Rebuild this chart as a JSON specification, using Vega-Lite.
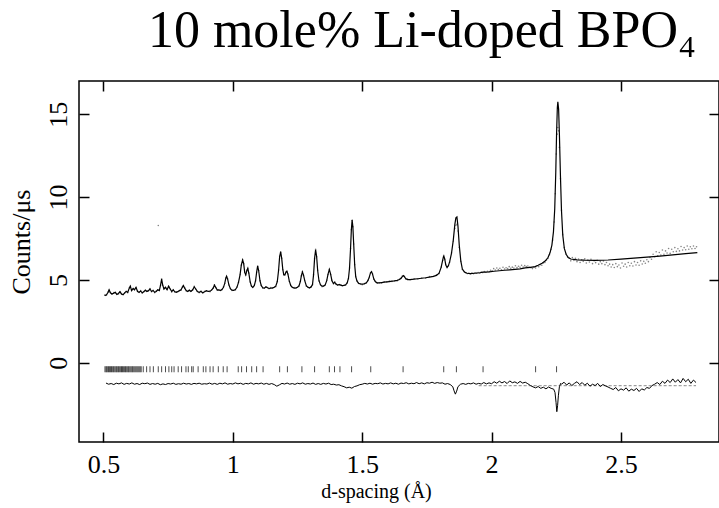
{
"$schema":"https://vega.github.io/schema/vega-lite/v6.json",
"width":640,"height":361,
"autosize":{"type":"none"},
"padding":{"left":79,"top":81,"right":0,"bottom":66},
"background":"white",
"config":{"view":{"stroke":"black","strokeWidth":1.5},"font":"Liberation Serif"},
"title":{"text":"10 mole% Li-doped BPO₄","font":"Liberation Serif","fontSize":52,"fontWeight":"normal","color":"black","anchor":"middle","dx":23,"offset":-19,"baseline":"alphabetic"},
"datasets":{
"calc":[
{"d":0.505,"y":4.05},{"d":0.512,"y":4.10},{"d":0.518,"y":4.25},{"d":0.522,"y":4.40},{"d":0.527,"y":4.22},{"d":0.533,"y":4.15},{"d":0.540,"y":4.20},{"d":0.546,"y":4.25},{"d":0.552,"y":4.12},{"d":0.558,"y":4.18},{"d":0.564,"y":4.28},{"d":0.570,"y":4.15},{"d":0.576,"y":4.10},{"d":0.582,"y":4.22},{"d":0.588,"y":4.30},{"d":0.594,"y":4.25},{"d":0.600,"y":4.50},{"d":0.604,"y":4.62},{"d":0.609,"y":4.35},{"d":0.615,"y":4.48},{"d":0.620,"y":4.40},{"d":0.626,"y":4.55},{"d":0.632,"y":4.30},{"d":0.638,"y":4.25},{"d":0.644,"y":4.32},{"d":0.650,"y":4.22},{"d":0.656,"y":4.28},{"d":0.662,"y":4.38},{"d":0.668,"y":4.30},{"d":0.674,"y":4.35},{"d":0.680,"y":4.45},{"d":0.686,"y":4.30},{"d":0.692,"y":4.36},{"d":0.698,"y":4.25},{"d":0.704,"y":4.30},{"d":0.710,"y":4.40},{"d":0.716,"y":4.35},{"d":0.721,"y":4.70},{"d":0.725,"y":5.05},{"d":0.729,"y":4.70},{"d":0.734,"y":4.45},{"d":0.740,"y":4.55},{"d":0.746,"y":4.40},{"d":0.752,"y":4.62},{"d":0.758,"y":4.45},{"d":0.764,"y":4.30},{"d":0.770,"y":4.40},{"d":0.776,"y":4.28},{"d":0.782,"y":4.25},{"d":0.788,"y":4.30},{"d":0.794,"y":4.35},{"d":0.800,"y":4.40},{"d":0.805,"y":4.55},{"d":0.809,"y":4.66},{"d":0.814,"y":4.50},{"d":0.820,"y":4.35},{"d":0.826,"y":4.30},{"d":0.832,"y":4.38},{"d":0.838,"y":4.30},{"d":0.845,"y":4.40},{"d":0.851,"y":4.58},{"d":0.857,"y":4.45},{"d":0.863,"y":4.30},{"d":0.870,"y":4.25},{"d":0.877,"y":4.30},{"d":0.884,"y":4.22},{"d":0.891,"y":4.28},{"d":0.898,"y":4.35},{"d":0.905,"y":4.30},{"d":0.912,"y":4.32},{"d":0.918,"y":4.38},{"d":0.924,"y":4.50},{"d":0.929,"y":4.68},{"d":0.934,"y":4.55},{"d":0.940,"y":4.38},{"d":0.946,"y":4.40},{"d":0.952,"y":4.35},{"d":0.958,"y":4.42},{"d":0.964,"y":4.55},{"d":0.969,"y":4.80},{"d":0.973,"y":5.10},{"d":0.976,"y":5.22},{"d":0.980,"y":5.05},{"d":0.985,"y":4.70},{"d":0.991,"y":4.45},{"d":0.997,"y":4.38},{"d":1.003,"y":4.36},{"d":1.010,"y":4.42},{"d":1.016,"y":4.55},{"d":1.022,"y":4.85},{"d":1.028,"y":5.30},{"d":1.033,"y":5.90},{"d":1.038,"y":6.20},{"d":1.042,"y":6.00},{"d":1.046,"y":5.45},{"d":1.050,"y":5.30},{"d":1.054,"y":5.55},{"d":1.058,"y":5.70},{"d":1.062,"y":5.40},{"d":1.067,"y":4.90},{"d":1.072,"y":4.62},{"d":1.077,"y":4.55},{"d":1.083,"y":4.65},{"d":1.088,"y":4.95},{"d":1.092,"y":5.45},{"d":1.096,"y":5.85},{"d":1.100,"y":5.55},{"d":1.105,"y":4.95},{"d":1.110,"y":4.65},{"d":1.116,"y":4.52},{"d":1.122,"y":4.50},{"d":1.128,"y":4.58},{"d":1.134,"y":4.52},{"d":1.140,"y":4.48},{"d":1.147,"y":4.50},{"d":1.154,"y":4.52},{"d":1.160,"y":4.55},{"d":1.166,"y":4.62},{"d":1.172,"y":4.90},{"d":1.177,"y":5.60},{"d":1.181,"y":6.40},{"d":1.185,"y":6.70},{"d":1.189,"y":6.30},{"d":1.193,"y":5.65},{"d":1.197,"y":5.30},{"d":1.201,"y":5.30},{"d":1.205,"y":5.45},{"d":1.209,"y":5.52},{"d":1.213,"y":5.35},{"d":1.218,"y":4.95},{"d":1.224,"y":4.65},{"d":1.230,"y":4.55},{"d":1.237,"y":4.50},{"d":1.244,"y":4.52},{"d":1.250,"y":4.55},{"d":1.256,"y":4.65},{"d":1.261,"y":4.90},{"d":1.265,"y":5.25},{"d":1.269,"y":5.48},{"d":1.273,"y":5.30},{"d":1.278,"y":4.95},{"d":1.284,"y":4.65},{"d":1.290,"y":4.55},{"d":1.296,"y":4.52},{"d":1.302,"y":4.56},{"d":1.308,"y":4.72},{"d":1.312,"y":5.30},{"d":1.316,"y":6.30},{"d":1.320,"y":6.82},{"d":1.324,"y":6.40},{"d":1.328,"y":5.55},{"d":1.333,"y":4.95},{"d":1.339,"y":4.70},{"d":1.345,"y":4.62},{"d":1.351,"y":4.62},{"d":1.357,"y":4.70},{"d":1.363,"y":4.95},{"d":1.368,"y":5.35},{"d":1.373,"y":5.63},{"d":1.378,"y":5.35},{"d":1.383,"y":4.95},{"d":1.389,"y":4.78},{"d":1.394,"y":4.85},{"d":1.399,"y":4.75},{"d":1.405,"y":4.68},{"d":1.411,"y":4.72},{"d":1.417,"y":4.68},{"d":1.423,"y":4.65},{"d":1.430,"y":4.66},{"d":1.436,"y":4.70},{"d":1.442,"y":4.82},{"d":1.447,"y":5.10},{"d":1.451,"y":5.70},{"d":1.455,"y":6.90},{"d":1.458,"y":8.00},{"d":1.461,"y":8.62},{"d":1.464,"y":8.20},{"d":1.467,"y":7.20},{"d":1.471,"y":5.90},{"d":1.475,"y":5.20},{"d":1.480,"y":4.92},{"d":1.486,"y":4.80},{"d":1.493,"y":4.75},{"d":1.500,"y":4.74},{"d":1.508,"y":4.76},{"d":1.516,"y":4.82},{"d":1.522,"y":4.95},{"d":1.527,"y":5.15},{"d":1.532,"y":5.42},{"d":1.536,"y":5.50},{"d":1.540,"y":5.35},{"d":1.545,"y":5.05},{"d":1.551,"y":4.88},{"d":1.558,"y":4.82},{"d":1.566,"y":4.82},{"d":1.575,"y":4.84},{"d":1.585,"y":4.86},{"d":1.595,"y":4.88},{"d":1.605,"y":4.90},{"d":1.615,"y":4.92},{"d":1.625,"y":4.94},{"d":1.635,"y":4.97},{"d":1.644,"y":5.02},{"d":1.650,"y":5.10},{"d":1.655,"y":5.20},{"d":1.659,"y":5.26},{"d":1.663,"y":5.20},{"d":1.668,"y":5.08},{"d":1.675,"y":5.02},{"d":1.685,"y":5.02},{"d":1.700,"y":5.04},{"d":1.715,"y":5.07},{"d":1.730,"y":5.10},{"d":1.745,"y":5.13},{"d":1.760,"y":5.17},{"d":1.775,"y":5.21},{"d":1.787,"y":5.27},{"d":1.797,"y":5.40},{"d":1.805,"y":5.75},{"d":1.811,"y":6.20},{"d":1.815,"y":6.47},{"d":1.819,"y":6.25},{"d":1.823,"y":5.90},{"d":1.828,"y":5.75},{"d":1.833,"y":5.85},{"d":1.838,"y":6.10},{"d":1.845,"y":6.60},{"d":1.852,"y":7.40},{"d":1.858,"y":8.35},{"d":1.862,"y":8.75},{"d":1.866,"y":8.80},{"d":1.870,"y":8.25},{"d":1.875,"y":7.10},{"d":1.881,"y":6.15},{"d":1.887,"y":5.65},{"d":1.895,"y":5.48},{"d":1.905,"y":5.40},{"d":1.918,"y":5.38},{"d":1.935,"y":5.40},{"d":1.955,"y":5.43},{"d":1.967,"y":5.47},{"d":1.975,"y":5.47},{"d":1.990,"y":5.48},{"d":2.010,"y":5.52},{"d":2.030,"y":5.55},{"d":2.050,"y":5.58},{"d":2.070,"y":5.61},{"d":2.090,"y":5.64},{"d":2.110,"y":5.67},{"d":2.130,"y":5.72},{"d":2.150,"y":5.76},{"d":2.168,"y":5.80},{"d":2.180,"y":5.88},{"d":2.195,"y":6.00},{"d":2.208,"y":6.15},{"d":2.218,"y":6.35},{"d":2.226,"y":6.65},{"d":2.233,"y":7.10},{"d":2.239,"y":7.90},{"d":2.244,"y":9.30},{"d":2.248,"y":11.50},{"d":2.251,"y":13.80},{"d":2.254,"y":15.40},{"d":2.256,"y":15.75},{"d":2.259,"y":15.30},{"d":2.262,"y":13.80},{"d":2.266,"y":11.30},{"d":2.270,"y":9.20},{"d":2.275,"y":7.70},{"d":2.281,"y":6.90},{"d":2.288,"y":6.55},{"d":2.296,"y":6.35},{"d":2.306,"y":6.26},{"d":2.330,"y":6.21},{"d":2.360,"y":6.19},{"d":2.400,"y":6.18},{"d":2.450,"y":6.20},{"d":2.500,"y":6.25},{"d":2.550,"y":6.31},{"d":2.600,"y":6.37},{"d":2.650,"y":6.44},{"d":2.700,"y":6.51},{"d":2.750,"y":6.58},{"d":2.795,"y":6.65}
],
"obs":[
{"d":0.505,"y":4.08},{"d":0.512,"y":4.08},{"d":0.518,"y":4.26},{"d":0.522,"y":4.37},{"d":0.527,"y":4.24},{"d":0.533,"y":4.14},{"d":0.540,"y":4.23},{"d":0.546,"y":4.23},{"d":0.552,"y":4.13},{"d":0.558,"y":4.15},{"d":0.564,"y":4.30},{"d":0.570,"y":4.14},{"d":0.576,"y":4.13},{"d":0.582,"y":4.20},{"d":0.588,"y":4.31},{"d":0.594,"y":4.22},{"d":0.600,"y":4.52},{"d":0.604,"y":4.61},{"d":0.609,"y":4.38},{"d":0.615,"y":4.46},{"d":0.620,"y":4.41},{"d":0.626,"y":4.52},{"d":0.632,"y":4.32},{"d":0.638,"y":4.24},{"d":0.644,"y":4.35},{"d":0.650,"y":4.20},{"d":0.656,"y":4.29},{"d":0.662,"y":4.35},{"d":0.668,"y":4.32},{"d":0.674,"y":4.34},{"d":0.680,"y":4.48},{"d":0.686,"y":4.28},{"d":0.692,"y":4.37},{"d":0.698,"y":4.22},{"d":0.704,"y":4.32},{"d":0.710,"y":4.39},{"d":0.712,"y":8.28},{"d":0.716,"y":4.38},{"d":0.721,"y":4.68},{"d":0.725,"y":5.06},{"d":0.729,"y":4.67},{"d":0.734,"y":4.47},{"d":0.740,"y":4.54},{"d":0.746,"y":4.43},{"d":0.752,"y":4.60},{"d":0.758,"y":4.46},{"d":0.764,"y":4.27},{"d":0.770,"y":4.42},{"d":0.776,"y":4.27},{"d":0.782,"y":4.28},{"d":0.788,"y":4.28},{"d":0.794,"y":4.36},{"d":0.800,"y":4.37},{"d":0.805,"y":4.57},{"d":0.809,"y":4.65},{"d":0.814,"y":4.53},{"d":0.820,"y":4.33},{"d":0.826,"y":4.31},{"d":0.832,"y":4.35},{"d":0.838,"y":4.32},{"d":0.845,"y":4.39},{"d":0.851,"y":4.61},{"d":0.857,"y":4.43},{"d":0.863,"y":4.31},{"d":0.870,"y":4.22},{"d":0.877,"y":4.32},{"d":0.884,"y":4.21},{"d":0.891,"y":4.31},{"d":0.898,"y":4.33},{"d":0.905,"y":4.31},{"d":0.912,"y":4.29},{"d":0.918,"y":4.40},{"d":0.924,"y":4.49},{"d":0.929,"y":4.71},{"d":0.934,"y":4.53},{"d":0.940,"y":4.39},{"d":0.946,"y":4.37},{"d":0.952,"y":4.37},{"d":0.958,"y":4.41},{"d":0.964,"y":4.58},{"d":0.969,"y":4.78},{"d":0.973,"y":5.11},{"d":0.976,"y":5.19},{"d":0.980,"y":5.07},{"d":0.985,"y":4.69},{"d":0.991,"y":4.48},{"d":0.997,"y":4.36},{"d":1.003,"y":4.37},{"d":1.010,"y":4.39},{"d":1.016,"y":4.57},{"d":1.022,"y":4.84},{"d":1.028,"y":5.33},{"d":1.033,"y":5.88},{"d":1.038,"y":6.21},{"d":1.042,"y":5.97},{"d":1.046,"y":5.47},{"d":1.050,"y":5.29},{"d":1.054,"y":5.58},{"d":1.058,"y":5.68},{"d":1.062,"y":5.41},{"d":1.067,"y":4.87},{"d":1.072,"y":4.64},{"d":1.077,"y":4.54},{"d":1.083,"y":4.68},{"d":1.088,"y":4.93},{"d":1.092,"y":5.46},{"d":1.096,"y":5.82},{"d":1.100,"y":5.57},{"d":1.105,"y":4.94},{"d":1.110,"y":4.68},{"d":1.116,"y":4.50},{"d":1.122,"y":4.51},{"d":1.128,"y":4.55},{"d":1.134,"y":4.54},{"d":1.140,"y":4.47},{"d":1.147,"y":4.53},{"d":1.154,"y":4.50},{"d":1.160,"y":4.56},{"d":1.166,"y":4.59},{"d":1.172,"y":4.92},{"d":1.177,"y":5.59},{"d":1.181,"y":6.43},{"d":1.185,"y":6.68},{"d":1.189,"y":6.31},{"d":1.193,"y":5.62},{"d":1.197,"y":5.32},{"d":1.201,"y":5.29},{"d":1.205,"y":5.48},{"d":1.209,"y":5.50},{"d":1.213,"y":5.36},{"d":1.218,"y":4.92},{"d":1.224,"y":4.67},{"d":1.230,"y":4.54},{"d":1.237,"y":4.53},{"d":1.244,"y":4.50},{"d":1.250,"y":4.56},{"d":1.256,"y":4.62},{"d":1.261,"y":4.92},{"d":1.265,"y":5.24},{"d":1.269,"y":5.51},{"d":1.273,"y":5.28},{"d":1.278,"y":4.96},{"d":1.284,"y":4.62},{"d":1.290,"y":4.58},{"d":1.296,"y":4.51},{"d":1.302,"y":4.59},{"d":1.308,"y":4.70},{"d":1.312,"y":5.31},{"d":1.316,"y":6.27},{"d":1.320,"y":6.84},{"d":1.324,"y":6.39},{"d":1.328,"y":5.58},{"d":1.333,"y":4.93},{"d":1.339,"y":4.71},{"d":1.345,"y":4.59},{"d":1.351,"y":4.64},{"d":1.357,"y":4.69},{"d":1.363,"y":4.98},{"d":1.368,"y":5.33},{"d":1.373,"y":5.64},{"d":1.378,"y":5.32},{"d":1.383,"y":4.97},{"d":1.389,"y":4.77},{"d":1.394,"y":4.88},{"d":1.399,"y":4.73},{"d":1.405,"y":4.69},{"d":1.411,"y":4.69},{"d":1.417,"y":4.70},{"d":1.423,"y":4.64},{"d":1.430,"y":4.69},{"d":1.436,"y":4.68},{"d":1.442,"y":4.83},{"d":1.447,"y":5.07},{"d":1.451,"y":5.72},{"d":1.455,"y":6.89},{"d":1.458,"y":8.03},{"d":1.461,"y":8.60},{"d":1.464,"y":8.21},{"d":1.467,"y":7.17},{"d":1.471,"y":5.92},{"d":1.475,"y":5.19},{"d":1.480,"y":4.95},{"d":1.486,"y":4.78},{"d":1.493,"y":4.76},{"d":1.500,"y":4.71},{"d":1.508,"y":4.78},{"d":1.516,"y":4.81},{"d":1.522,"y":4.98},{"d":1.527,"y":5.13},{"d":1.532,"y":5.43},{"d":1.536,"y":5.47},{"d":1.540,"y":5.37},{"d":1.545,"y":5.04},{"d":1.551,"y":4.91},{"d":1.558,"y":4.80},{"d":1.566,"y":4.83},{"d":1.575,"y":4.81},{"d":1.585,"y":4.88},{"d":1.595,"y":4.87},{"d":1.605,"y":4.93},{"d":1.615,"y":4.90},{"d":1.625,"y":4.95},{"d":1.635,"y":4.94},{"d":1.644,"y":5.04},{"d":1.650,"y":5.09},{"d":1.655,"y":5.23},{"d":1.659,"y":5.24},{"d":1.663,"y":5.21},{"d":1.668,"y":5.05},{"d":1.675,"y":5.05},{"d":1.685,"y":5.01},{"d":1.700,"y":5.07},{"d":1.715,"y":5.05},{"d":1.730,"y":5.11},{"d":1.745,"y":5.10},{"d":1.760,"y":5.20},{"d":1.775,"y":5.20},{"d":1.787,"y":5.30},{"d":1.797,"y":5.38},{"d":1.805,"y":5.76},{"d":1.811,"y":6.17},{"d":1.815,"y":6.49},{"d":1.819,"y":6.24},{"d":1.823,"y":5.93},{"d":1.828,"y":5.73},{"d":1.833,"y":5.86},{"d":1.838,"y":6.07},{"d":1.845,"y":6.62},{"d":1.852,"y":7.35},{"d":1.858,"y":8.10},{"d":1.862,"y":8.30},{"d":1.866,"y":8.35},{"d":1.870,"y":7.95},{"d":1.875,"y":6.95},{"d":1.881,"y":6.12},{"d":1.887,"y":5.63},{"d":1.895,"y":5.49},
{"d":1.900,"y":5.43},{"d":1.906,"y":5.38},{"d":1.912,"y":5.42},{"d":1.918,"y":5.36},{"d":1.924,"y":5.41},{"d":1.930,"y":5.37},{"d":1.936,"y":5.43},{"d":1.942,"y":5.40},{"d":1.948,"y":5.45},{"d":1.954,"y":5.41},{"d":1.960,"y":5.47},{"d":1.966,"y":5.44},{"d":1.972,"y":5.50},{"d":1.978,"y":5.46},{"d":1.984,"y":5.52},{"d":1.990,"y":5.49},{"d":1.996,"y":5.58},{"d":2.002,"y":5.55},{"d":2.008,"y":5.68},{"d":2.014,"y":5.60},{"d":2.020,"y":5.72},{"d":2.026,"y":5.63},{"d":2.032,"y":5.70},{"d":2.038,"y":5.61},{"d":2.044,"y":5.76},{"d":2.050,"y":5.66},{"d":2.056,"y":5.73},{"d":2.062,"y":5.68},{"d":2.068,"y":5.80},{"d":2.074,"y":5.70},{"d":2.080,"y":5.77},{"d":2.086,"y":5.72},{"d":2.092,"y":5.85},{"d":2.098,"y":5.74},{"d":2.104,"y":5.82},{"d":2.110,"y":5.76},{"d":2.116,"y":5.88},{"d":2.122,"y":5.78},{"d":2.128,"y":5.86},{"d":2.134,"y":5.80},{"d":2.140,"y":5.84},{"d":2.146,"y":5.76},{"d":2.152,"y":5.74},{"d":2.158,"y":5.68},{"d":2.164,"y":5.77},{"d":2.170,"y":5.72},{"d":2.176,"y":5.85},{"d":2.182,"y":5.80},{"d":2.188,"y":5.92},{"d":2.194,"y":5.88},{"d":2.200,"y":6.02},{"d":2.206,"y":6.05},{"d":2.212,"y":6.20},{"d":2.218,"y":6.30},{"d":2.224,"y":6.52},{"d":2.230,"y":6.85},{"d":2.236,"y":7.40},{"d":2.242,"y":8.50},{"d":2.246,"y":10.20},{"d":2.250,"y":12.60},{"d":2.253,"y":13.80},{"d":2.256,"y":14.20},{"d":2.259,"y":14.00},{"d":2.262,"y":13.00},{"d":2.266,"y":11.10},{"d":2.270,"y":9.20},{"d":2.275,"y":7.75},{"d":2.281,"y":6.95},{"d":2.288,"y":6.55},{"d":2.294,"y":6.38},{"d":2.300,"y":6.32},{"d":2.306,"y":6.15},{"d":2.312,"y":6.35},{"d":2.318,"y":6.18},{"d":2.324,"y":6.30},{"d":2.330,"y":6.10},{"d":2.336,"y":6.26},{"d":2.342,"y":6.05},{"d":2.348,"y":6.22},{"d":2.354,"y":6.12},{"d":2.360,"y":6.28},{"d":2.366,"y":6.02},{"d":2.372,"y":6.20},{"d":2.378,"y":6.08},{"d":2.384,"y":6.25},{"d":2.390,"y":5.98},{"d":2.396,"y":6.15},{"d":2.402,"y":6.04},{"d":2.408,"y":6.18},{"d":2.414,"y":5.95},{"d":2.420,"y":6.10},{"d":2.426,"y":5.98},{"d":2.432,"y":6.14},{"d":2.438,"y":5.92},{"d":2.444,"y":6.05},{"d":2.450,"y":5.85},{"d":2.456,"y":5.95},{"d":2.462,"y":5.78},{"d":2.468,"y":5.92},{"d":2.474,"y":5.75},{"d":2.480,"y":5.98},{"d":2.486,"y":5.80},{"d":2.492,"y":5.90},{"d":2.498,"y":5.72},{"d":2.504,"y":6.02},{"d":2.510,"y":5.82},{"d":2.516,"y":5.95},{"d":2.522,"y":5.78},{"d":2.528,"y":6.05},{"d":2.534,"y":5.85},{"d":2.540,"y":6.00},{"d":2.546,"y":5.84},{"d":2.552,"y":6.10},{"d":2.558,"y":5.90},{"d":2.564,"y":6.05},{"d":2.570,"y":5.88},{"d":2.576,"y":6.15},{"d":2.582,"y":5.96},{"d":2.588,"y":6.12},{"d":2.594,"y":6.00},{"d":2.600,"y":6.22},{"d":2.606,"y":6.10},{"d":2.612,"y":6.35},{"d":2.618,"y":6.25},{"d":2.624,"y":6.55},{"d":2.630,"y":6.40},{"d":2.636,"y":6.70},{"d":2.642,"y":6.45},{"d":2.648,"y":6.65},{"d":2.654,"y":6.50},{"d":2.660,"y":6.80},{"d":2.666,"y":6.55},{"d":2.672,"y":6.75},{"d":2.678,"y":6.62},{"d":2.684,"y":6.90},{"d":2.690,"y":6.60},{"d":2.696,"y":6.85},{"d":2.702,"y":6.70},{"d":2.708,"y":6.95},{"d":2.714,"y":6.72},{"d":2.720,"y":6.88},{"d":2.726,"y":6.75},{"d":2.732,"y":7.02},{"d":2.738,"y":6.80},{"d":2.744,"y":6.95},{"d":2.750,"y":6.82},{"d":2.756,"y":7.05},{"d":2.762,"y":6.85},{"d":2.768,"y":7.00},{"d":2.774,"y":6.88},{"d":2.780,"y":7.05},{"d":2.786,"y":6.90},{"d":2.792,"y":7.00}
],
"diff":[
{"d":0.51,"y":-1.23},{"d":0.52,"y":-1.30},{"d":0.53,"y":-1.26},{"d":0.54,"y":-1.32},{"d":0.55,"y":-1.24},{"d":0.56,"y":-1.28},{"d":0.57,"y":-1.22},{"d":0.58,"y":-1.31},{"d":0.59,"y":-1.25},{"d":0.60,"y":-1.29},{"d":0.61,"y":-1.22},{"d":0.62,"y":-1.30},{"d":0.63,"y":-1.26},{"d":0.64,"y":-1.32},{"d":0.65,"y":-1.24},{"d":0.66,"y":-1.27},{"d":0.67,"y":-1.23},{"d":0.68,"y":-1.31},{"d":0.69,"y":-1.26},{"d":0.70,"y":-1.30},{"d":0.71,"y":-1.25},{"d":0.72,"y":-1.33},{"d":0.73,"y":-1.28},{"d":0.74,"y":-1.32},{"d":0.75,"y":-1.26},{"d":0.76,"y":-1.29},{"d":0.77,"y":-1.24},{"d":0.78,"y":-1.31},{"d":0.79,"y":-1.27},{"d":0.80,"y":-1.30},{"d":0.81,"y":-1.24},{"d":0.82,"y":-1.29},{"d":0.83,"y":-1.26},{"d":0.84,"y":-1.31},{"d":0.85,"y":-1.25},{"d":0.86,"y":-1.28},{"d":0.87,"y":-1.24},{"d":0.88,"y":-1.30},{"d":0.89,"y":-1.27},{"d":0.90,"y":-1.29},{"d":0.91,"y":-1.23},{"d":0.92,"y":-1.30},{"d":0.93,"y":-1.25},{"d":0.94,"y":-1.31},{"d":0.95,"y":-1.24},{"d":0.96,"y":-1.28},{"d":0.97,"y":-1.22},{"d":0.98,"y":-1.30},{"d":0.99,"y":-1.26},{"d":1.00,"y":-1.29},{"d":1.01,"y":-1.22},{"d":1.02,"y":-1.28},{"d":1.03,"y":-1.24},{"d":1.04,"y":-1.31},{"d":1.05,"y":-1.25},{"d":1.06,"y":-1.28},{"d":1.07,"y":-1.22},{"d":1.08,"y":-1.30},{"d":1.09,"y":-1.25},{"d":1.10,"y":-1.28},{"d":1.11,"y":-1.23},{"d":1.12,"y":-1.30},{"d":1.13,"y":-1.25},{"d":1.14,"y":-1.31},{"d":1.15,"y":-1.26},{"d":1.16,"y":-1.32},{"d":1.17,"y":-1.42},{"d":1.18,"y":-1.34},{"d":1.19,"y":-1.25},{"d":1.20,"y":-1.29},{"d":1.21,"y":-1.23},{"d":1.22,"y":-1.30},{"d":1.23,"y":-1.26},{"d":1.24,"y":-1.31},{"d":1.25,"y":-1.24},{"d":1.26,"y":-1.28},{"d":1.27,"y":-1.22},{"d":1.28,"y":-1.30},{"d":1.29,"y":-1.26},{"d":1.30,"y":-1.29},{"d":1.31,"y":-1.23},{"d":1.32,"y":-1.31},{"d":1.33,"y":-1.26},{"d":1.34,"y":-1.31},{"d":1.35,"y":-1.25},{"d":1.36,"y":-1.29},{"d":1.37,"y":-1.24},{"d":1.38,"y":-1.32},{"d":1.39,"y":-1.30},{"d":1.40,"y":-1.35},{"d":1.41,"y":-1.33},{"d":1.42,"y":-1.40},{"d":1.43,"y":-1.45},{"d":1.44,"y":-1.52},{"d":1.45,"y":-1.48},{"d":1.46,"y":-1.54},{"d":1.47,"y":-1.44},{"d":1.48,"y":-1.40},{"d":1.49,"y":-1.33},{"d":1.50,"y":-1.30},{"d":1.51,"y":-1.25},{"d":1.52,"y":-1.29},{"d":1.53,"y":-1.24},{"d":1.54,"y":-1.30},{"d":1.55,"y":-1.25},{"d":1.56,"y":-1.27},{"d":1.57,"y":-1.22},{"d":1.58,"y":-1.29},{"d":1.59,"y":-1.25},{"d":1.60,"y":-1.28},{"d":1.61,"y":-1.22},{"d":1.62,"y":-1.28},{"d":1.63,"y":-1.24},{"d":1.64,"y":-1.30},{"d":1.65,"y":-1.23},{"d":1.66,"y":-1.26},{"d":1.67,"y":-1.21},{"d":1.68,"y":-1.28},{"d":1.69,"y":-1.24},{"d":1.70,"y":-1.27},{"d":1.71,"y":-1.20},{"d":1.72,"y":-1.27},{"d":1.73,"y":-1.22},{"d":1.74,"y":-1.28},{"d":1.75,"y":-1.21},{"d":1.76,"y":-1.24},{"d":1.77,"y":-1.18},{"d":1.78,"y":-1.25},{"d":1.79,"y":-1.20},{"d":1.80,"y":-1.24},{"d":1.81,"y":-1.22},{"d":1.82,"y":-1.30},{"d":1.83,"y":-1.26},{"d":1.84,"y":-1.32},{"d":1.85,"y":-1.45},{"d":1.855,"y":-1.70},{"d":1.86,"y":-1.90},{"d":1.865,"y":-1.72},{"d":1.87,"y":-1.45},{"d":1.88,"y":-1.30},{"d":1.89,"y":-1.26},{"d":1.90,"y":-1.31},{"d":1.91,"y":-1.25},{"d":1.92,"y":-1.28},{"d":1.93,"y":-1.22},{"d":1.94,"y":-1.30},{"d":1.95,"y":-1.25},{"d":1.96,"y":-1.29},{"d":1.97,"y":-1.20},{"d":1.98,"y":-1.28},{"d":1.99,"y":-1.22},{"d":2.00,"y":-1.27},{"d":2.01,"y":-1.15},{"d":2.02,"y":-1.24},{"d":2.03,"y":-1.12},{"d":2.04,"y":-1.22},{"d":2.05,"y":-1.14},{"d":2.06,"y":-1.26},{"d":2.07,"y":-1.10},{"d":2.08,"y":-1.21},{"d":2.09,"y":-1.16},{"d":2.10,"y":-1.25},{"d":2.11,"y":-1.13},{"d":2.12,"y":-1.23},{"d":2.13,"y":-1.18},{"d":2.14,"y":-1.27},{"d":2.15,"y":-1.38},{"d":2.16,"y":-1.46},{"d":2.17,"y":-1.52},{"d":2.18,"y":-1.44},{"d":2.19,"y":-1.55},{"d":2.20,"y":-1.48},{"d":2.21,"y":-1.58},{"d":2.22,"y":-1.47},{"d":2.23,"y":-1.55},{"d":2.24,"y":-1.60},{"d":2.245,"y":-1.80},{"d":2.249,"y":-2.40},{"d":2.252,"y":-2.96},{"d":2.255,"y":-2.60},{"d":2.258,"y":-2.00},{"d":2.262,"y":-1.45},{"d":2.267,"y":-1.25},{"d":2.27,"y":-1.30},{"d":2.28,"y":-1.18},{"d":2.29,"y":-1.35},{"d":2.30,"y":-1.22},{"d":2.31,"y":-1.38},{"d":2.32,"y":-1.25},{"d":2.33,"y":-1.15},{"d":2.34,"y":-1.32},{"d":2.35,"y":-1.20},{"d":2.36,"y":-1.36},{"d":2.37,"y":-1.24},{"d":2.38,"y":-1.42},{"d":2.39,"y":-1.30},{"d":2.40,"y":-1.38},{"d":2.41,"y":-1.25},{"d":2.42,"y":-1.44},{"d":2.43,"y":-1.32},{"d":2.44,"y":-1.40},{"d":2.45,"y":-1.47},{"d":2.46,"y":-1.55},{"d":2.47,"y":-1.62},{"d":2.48,"y":-1.50},{"d":2.49,"y":-1.70},{"d":2.50,"y":-1.58},{"d":2.51,"y":-1.66},{"d":2.52,"y":-1.52},{"d":2.53,"y":-1.72},{"d":2.54,"y":-1.60},{"d":2.55,"y":-1.68},{"d":2.56,"y":-1.55},{"d":2.57,"y":-1.74},{"d":2.58,"y":-1.58},{"d":2.59,"y":-1.65},{"d":2.60,"y":-1.50},{"d":2.61,"y":-1.55},{"d":2.62,"y":-1.38},{"d":2.63,"y":-1.30},{"d":2.64,"y":-1.20},{"d":2.65,"y":-1.32},{"d":2.66,"y":-1.12},{"d":2.67,"y":-1.25},{"d":2.68,"y":-1.05},{"d":2.69,"y":-1.20},{"d":2.70,"y":-0.98},{"d":2.71,"y":-1.18},{"d":2.72,"y":-1.02},{"d":2.73,"y":-1.22},{"d":2.74,"y":-0.95},{"d":2.75,"y":-1.15},{"d":2.76,"y":-1.00},{"d":2.77,"y":-1.25},{"d":2.78,"y":-1.05},{"d":2.79,"y":-1.20}
],
"refl":[
{"d":0.506},{"d":0.510},{"d":0.513},{"d":0.517},{"d":0.520},{"d":0.524},{"d":0.527},{"d":0.531},{"d":0.534},{"d":0.538},{"d":0.541},{"d":0.545},{"d":0.549},{"d":0.552},{"d":0.556},{"d":0.559},{"d":0.563},{"d":0.567},{"d":0.570},{"d":0.574},{"d":0.577},{"d":0.581},{"d":0.585},{"d":0.588},{"d":0.592},{"d":0.596},{"d":0.599},{"d":0.603},{"d":0.607},{"d":0.611},{"d":0.614},{"d":0.618},{"d":0.622},{"d":0.626},{"d":0.630},{"d":0.634},{"d":0.638},{"d":0.642},{"d":0.646},{"d":0.654},{"d":0.667},{"d":0.680},{"d":0.693},{"d":0.712},{"d":0.725},{"d":0.740},{"d":0.753},{"d":0.764},{"d":0.773},{"d":0.789},{"d":0.802},{"d":0.819},{"d":0.828},{"d":0.841},{"d":0.847},{"d":0.866},{"d":0.886},{"d":0.896},{"d":0.912},{"d":0.924},{"d":0.944},{"d":0.963},{"d":0.978},{"d":1.021},{"d":1.034},{"d":1.053},{"d":1.073},{"d":1.092},{"d":1.117},{"d":1.181},{"d":1.211},{"d":1.267},{"d":1.316},{"d":1.373},{"d":1.393},{"d":1.414},{"d":1.459},{"d":1.533},{"d":1.658},{"d":1.815},{"d":1.864},{"d":1.967},{"d":2.170},{"d":2.251}
]
},
"layer":[
{"data":{"name":"diff"},"transform":[{"filter":"datum.d >= 1.95"}],"mark":{"type":"line","color":"#666","strokeWidth":0.8,"strokeDash":[3,2]},
 "encoding":{
  "x":{"field":"d","type":"quantitative","scale":{"domain":[0.4057,2.8787],"nice":false,"zero":false},
   "axis":{"orient":"bottom","values":[0.5,1,1.5,2,2.5],"format":"~g","domain":false,"grid":false,"tickSize":-10,"tickWidth":1.5,"tickColor":"black","labelFont":"Liberation Serif","labelFontSize":26,"labelColor":"black","labelPadding":19,"labelBaseline":"top","labelFlush":false,"labelOverlap":false,"title":"d-spacing (Å)","titleFont":"Liberation Serif","titleFontSize":20,"titleFontWeight":"normal","titleColor":"black","titleX":297,"titleY":55,"titleAlign":"center","titleBaseline":"alphabetic"}},
  "y":{"datum":-1.39,"type":"quantitative","scale":{"domain":[-4.79,17.01],"nice":false,"zero":false},
   "axis":{"orient":"left","values":[0,5,10,15],"domain":false,"grid":false,"tickSize":-10,"tickWidth":1.5,"tickColor":"black","labelFont":"Liberation Serif","labelFontSize":26,"labelColor":"black","labelAngle":270,"labelAlign":"center","labelBaseline":"alphabetic","labelPadding":23,"title":"Counts/μs","titleFont":"Liberation Serif","titleFontSize":26,"titleFontWeight":"normal","titleColor":"black","titleAngle":270,"titleX":-49.5,"titleY":160.5,"titleAlign":"center","titleBaseline":"alphabetic"}}}},
{"data":{"name":"obs"},"mark":{"type":"point","filled":true,"size":2.5,"color":"#777","opacity":0.9},
 "encoding":{
  "x":{"field":"d","type":"quantitative","axis":{"orient":"top","values":[0.5,1,1.5,2,2.5],"labels":false,"domain":false,"grid":false,"tickSize":-10,"tickWidth":1.5,"tickColor":"black","title":null}},
  "y":{"field":"y","type":"quantitative","axis":{"orient":"right","values":[0,5,10,15],"labels":false,"domain":false,"grid":false,"tickSize":-10,"tickWidth":1.5,"tickColor":"black","title":null}}}},
{"data":{"name":"calc"},"mark":{"type":"line","color":"black","strokeWidth":1.2},
 "encoding":{"x":{"field":"d","type":"quantitative","axis":null},"y":{"field":"y","type":"quantitative","axis":null}}},
{"data":{"name":"diff"},"mark":{"type":"line","color":"black","strokeWidth":1},
 "encoding":{"x":{"field":"d","type":"quantitative","axis":null},"y":{"field":"y","type":"quantitative","axis":null}}},
{"data":{"name":"refl"},"mark":{"type":"tick","orient":"vertical","size":6,"thickness":1,"color":"black"},
 "encoding":{"x":{"field":"d","type":"quantitative","axis":null},"y":{"datum":-0.40,"type":"quantitative","axis":null}}}
],
"resolve":{"axis":{"x":"independent","y":"independent"}}
}
